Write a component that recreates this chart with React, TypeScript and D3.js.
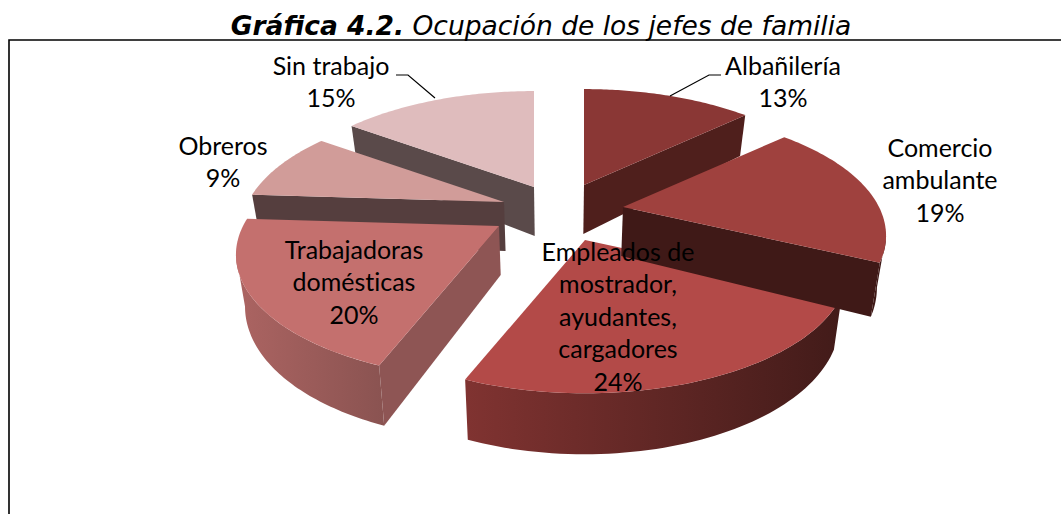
import React from "react";
import * as d3 from "d3";

const categories = ["Albañilería", "Comercio ambulante", "Empleados de mostrador, ayudantes, cargadores", "Trabajadoras domésticas", "Obreros", "Sin trabajo"];
const values = [13, 19, 24, 20, 9, 15];
const topColors = ["#8a3735", "#9f413e", "#b34a48", "#c4706e", "#d19c99", "#dfbcbd"];
const wallColors = ["#4f1f1c", "#3f1917", "#3f1917", "#8e5554", "#553e3e", "#5a4a4a"];
const arcFrom = ["#4f1f1c", "#3f1917", "#803331", "#ac6462", "#553e3e", "#5a4a4a"];
const arcTo = ["#4f1f1c", "#3f1917", "#421b19", "#8a5351", "#553e3e", "#5a4a4a"];

// layout: per-slice exploded apex, in pixels
const apexX = [584, 623, 585, 499, 504, 534];
const apexY = [185, 207, 240, 226, 202, 187];
const drawOrder = [0, 5, 4, 3, 2, 1];

const labelLines = [
  ["Albañilería", "13%"],
  ["Comercio", "ambulante", "19%"],
  ["Empleados de", "mostrador,", "ayudantes,", "cargadores", "24%"],
  ["Trabajadoras", "domésticas", "20%"],
  ["Obreros", "9%"],
  ["Sin trabajo", "15%"],
];
const labelX = [783, 940, 618, 354, 223, 331];
const labelY = [67, 149, 253, 251, 147, 67];
const lineGap = 32.4;

const leaders = [
  [[721, 75], [709, 75], [670, 96]],
  [[396, 75], [408, 75], [435, 98]],
];

const RX = 256;
const RY = 118;
const P = 0.23;
const VIS = Math.acos(-P);

type Pt = [number, number];

function topPoint(i: number, a: number): Pt {
  const v = -Math.cos(a);
  const w = 1 / (1 - P * v);
  return [apexX[i] + RX * Math.sin(a) * w, apexY[i] + RY * v * w];
}
function lower(p: Pt, v: number): Pt {
  return [p[0] - (p[0] - 560) * 0.028, p[1] + 49 + 12 * v];
}
function botPoint(i: number, a: number): Pt {
  return lower(topPoint(i, a), -Math.cos(a));
}
const line = d3.line<Pt>();

function arcPts(i: number, a0: number, a1: number, f = topPoint): Pt[] {
  return d3.range(0, 61).map((k) => f(i, a0 + ((a1 - a0) * k) / 60));
}

export default function App() {
  const arcs = d3.pie<number>().sort(null).startAngle(0).endAngle(2 * Math.PI)(values);
  return (
    <svg width={1061} height={514} style={{ position: "absolute", left: 0, top: 0, background: "#fff" }}>
      <defs>
        {values.map((_, i) => (
          <linearGradient key={i} id={`side${i}`} x1="0" x2="1" y1="0" y2="0">
            <stop offset="0" stopColor={arcFrom[i]} />
            <stop offset="1" stopColor={arcTo[i]} />
          </linearGradient>
        ))}
      </defs>
      <text x={541} y={35} textAnchor="middle" fontFamily="DejaVu Sans" fontStyle="italic" fontSize={26.5} fill="#000">
        <tspan fontWeight="bold">Gráfica 4.2.</tspan>
        <tspan> Ocupación de los jefes de familia</tspan>
      </text>
      <path d="M1061,40H9V514" fill="none" stroke="#000" strokeWidth={1.6} />
      {drawOrder.map((i) => {
        const { startAngle: a1, endAngle: a2 } = arcs[i];
        const apexTop: Pt = [apexX[i], apexY[i]];
        const apexBot = lower(apexTop, 0);
        const faces: React.ReactNode[] = [];
        if (Math.sin(a1) < -1e-6) {
          faces.push(
            <path key="w1" d={line([apexTop, topPoint(i, a1), botPoint(i, a1), apexBot])! + "Z"} fill={wallColors[i]} />
          );
        }
        if (Math.sin(a2) > 1e-6) {
          faces.push(
            <path key="w2" d={line([apexTop, topPoint(i, a2), botPoint(i, a2), apexBot])! + "Z"} fill={wallColors[i]} />
          );
        }
        const s0 = Math.max(a1, VIS);
        const s1 = Math.min(a2, 2 * Math.PI - VIS);
        if (s1 > s0) {
          const pts = [...arcPts(i, s0, s1), ...arcPts(i, s0, s1, botPoint).reverse()];
          faces.push(<path key="arc" d={line(pts)! + "Z"} fill={`url(#side${i})`} />);
        }
        const top = [apexTop, ...arcPts(i, a1, a2)];
        return (
          <g key={i}>
            {faces}
            <path d={line(top)! + "Z"} fill={topColors[i]} />
          </g>
        );
      })}
      {leaders.map((l, i) => (
        <path key={i} d={line(l as Pt[])!} fill="none" stroke="#000" strokeWidth={1.2} />
      ))}
      {labelLines.map((lines, i) => (
        <text key={i} textAnchor="middle" fontFamily="Lato" fontSize={25} fill="#000" style={{ fontVariantLigatures: "none" }}>
          {lines.map((t, k) => (
            <tspan key={k} x={labelX[i]} y={labelY[i] + k * lineGap + 8}>
              {t}
            </tspan>
          ))}
        </text>
      ))}
    </svg>
  );
}
